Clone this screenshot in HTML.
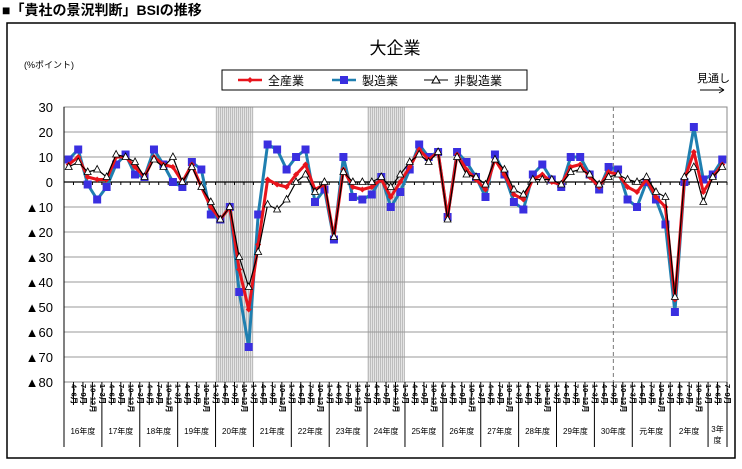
<!DOCTYPE html>
<html><head><meta charset="utf-8"><style>
body{margin:0;background:#fff;width:742px;height:464px;overflow:hidden;font-family:"Liberation Sans","Noto Sans CJK JP",sans-serif}
</style></head><body>
<svg id="s" width="742" height="464" xmlns="http://www.w3.org/2000/svg" font-family="Liberation Sans, Noto Sans CJK JP, sans-serif">
<defs><pattern id="hp" width="2" height="2" patternUnits="userSpaceOnUse"><rect width="2" height="2" fill="#e4e4e4"/><rect width="1" height="2" fill="#bdbdbd"/></pattern></defs>
<text x="2" y="15" font-size="14" font-weight="bold">■「貴社の景況判断」BSIの推移</text>
<rect x="7" y="23" width="728" height="435" fill="none" stroke="#000" stroke-width="1.5"/>
<text x="395" y="54" font-size="17" text-anchor="middle">大企業</text>
<text x="24" y="68" font-size="9">(%ポイント)</text>
<rect x="222" y="70" width="305" height="20" fill="#fff" stroke="#000" stroke-width="1"/>
<line x1="238" y1="80" x2="262" y2="80" stroke="#e8141c" stroke-width="2.5"/><path d="M250 77l3 3-3 3-3-3z" fill="#e8141c"/>
<text x="268" y="85" font-size="12">全産業</text>
<line x1="332" y1="80" x2="356" y2="80" stroke="#1f7fb0" stroke-width="2.5"/><rect x="340" y="76" width="8" height="8" fill="#3a2fe0"/>
<text x="362" y="85" font-size="12">製造業</text>
<line x1="424" y1="80" x2="448" y2="80" stroke="#000" stroke-width="1"/><path d="M436 76l4 7h-8z" fill="#fff" stroke="#000"/>
<text x="454" y="85" font-size="12">非製造業</text>
<text x="697" y="82" font-size="11">見通し</text>
<line x1="700" y1="90" x2="724" y2="90" stroke="#000"/><path d="M724 90l-5-3M724 90l-5 3" stroke="#000"/>
<g id="g"></g>
</svg>
<script>
var M=[9,13,-1,-7,-2,7,11,3,2,13,7,0,-2,8,5,-13,-15,-10,-44,-66,-13,15,13,5,10,13,-8,-3,-23,10,-6,-7,-5,2,-10,-4,5,15,10,12,-14,12,8,2,-6,11,3,-8,-11,3,7,1,-2,10,10,3,-3,6,5,-7,-10,0,-7,-17,-52,0,22,1,3,9];
var A=[7,10,2,1,1,10,10,6,2,10,7,6,0,7,-2,-10,-15,-10,-35,-51,-25,1,-1,-2,3,7,-3,-1,-22,5,-2,-3,-2,1,-6,0,6,13,9,12,-14,11,5,1,-3,9,3,-5,-7,1,3,0,-1,6,7,2,-2,4,3,-2,-4,1,-6,-10,-47,1,12,-4,2,7];
var N=[6,8,4,5,2,11,10,8,2,9,6,10,0,6,-2,-8,-15,-10,-30,-42,-28,-9,-11,-7,0,3,-4,0,-22,4,0,0,0,2,-2,3,8,11,8,12,-15,10,3,2,-1,9,5,-3,-5,1,1,1,-1,4,5,3,-1,2,3,1,0,2,-4,-6,-46,2,6,-8,2,6];
var L=64,R=727,T=107,B=382,W=(R-L)/70;
function X(i){return L+(i+.5)*W}function Y(v){return 182-v*2.5}
var h='';
h+='<rect x="'+(L+16*W)+'" y="'+T+'" width="'+(4*W)+'" height="'+(B-T)+'" fill="url(#hp)"/>';
h+='<rect x="'+(L+32*W)+'" y="'+T+'" width="'+(4*W)+'" height="'+(B-T)+'" fill="url(#hp)"/>';
for(var v=30;v>=-80;v-=10){var y=Y(v);if(v!=0)h+='<line x1="'+L+'" x2="'+R+'" y1="'+y+'" y2="'+y+'" stroke="#999" stroke-width="1"/>';
h+='<text x="53" y="'+(y+5)+'" font-size="13" text-anchor="end">'+(v<0?'▲'+(-v):v)+'</text>';}
h+='<line x1="'+(L+58*W)+'" x2="'+(L+58*W)+'" y1="'+T+'" y2="'+B+'" stroke="#777" stroke-dasharray="4,3"/>';
h+='<rect x="'+L+'" y="'+T+'" width="'+(R-L)+'" height="'+(B-T)+'" fill="none" stroke="#888"/>';
h+='<line x1="'+L+'" x2="'+L+'" y1="'+T+'" y2="'+B+'" stroke="#000"/>';
h+='<line x1="'+L+'" x2="'+R+'" y1="182" y2="182" stroke="#000" stroke-width="1.2"/>';
for(var i=0;i<=70;i++){var x=L+i*W;h+='<line x1="'+x+'" x2="'+x+'" y1="182" y2="185" stroke="#000"/>';}
function pl(a,c,w){var p='';for(var i=0;i<a.length;i++)p+=(i?'L':'M')+X(i).toFixed(1)+' '+Y(a[i]).toFixed(1);return '<path d="'+p+'" fill="none" stroke="'+c+'" stroke-width="'+w+'" stroke-linejoin="round"/>';}
h+=pl(M,'#1f7fb0',3);
for(var i=0;i<70;i++)h+='<rect x="'+(X(i)-4)+'" y="'+(Y(M[i])-4)+'" width="8" height="8" fill="#3a2fe0"/>';
h+=pl(A,'#e8141c',3);
for(var i=0;i<70;i++){var x=X(i),y=Y(A[i]);h+='<path d="M'+x+' '+(y-3)+'l3 3-3 3-3-3z" fill="#e8141c"/>';}
h+=pl(N,'#000',1.2);
for(var i=0;i<70;i++){var x=X(i),y=Y(N[i]);h+='<path d="M'+x+' '+(y-4)+'l3.5 6.5h-7z" fill="#fff" stroke="#000" stroke-width=".8"/>';}
var q=['4~6月','7~9月','10~12月','1~3月'];
for(var i=0;i<70;i++){var x=L+i*W;var yr=(i%4==0);h+='<line x1="'+x+'" x2="'+x+'" y1="'+B+'" y2="'+(yr?447:405)+'" stroke="#000"/>';
h+='<text transform="translate('+(x+W/2+2.8)+',384) rotate(90)" font-size="7.5" font-weight="bold">'+q[i%4]+'</text>';}
h+='<line x1="'+R+'" x2="'+R+'" y1="'+B+'" y2="447" stroke="#000"/>';
var ys=['16年度','17年度','18年度','19年度','20年度','21年度','22年度','23年度','24年度','25年度','26年度','27年度','28年度','29年度','30年度','元年度','2年度'];
for(var k=0;k<ys.length;k++)h+='<text x="'+(L+(k*4+2)*W)+'" y="434" font-size="8" text-anchor="middle">'+ys[k]+'</text>';
h+='<text x="'+(L+69*W)+'" y="432" font-size="8" text-anchor="middle">3年</text><text x="'+(L+69*W)+'" y="443" font-size="8" text-anchor="middle">度</text>';
document.getElementById('g').innerHTML=h;
</script>
</body></html>
